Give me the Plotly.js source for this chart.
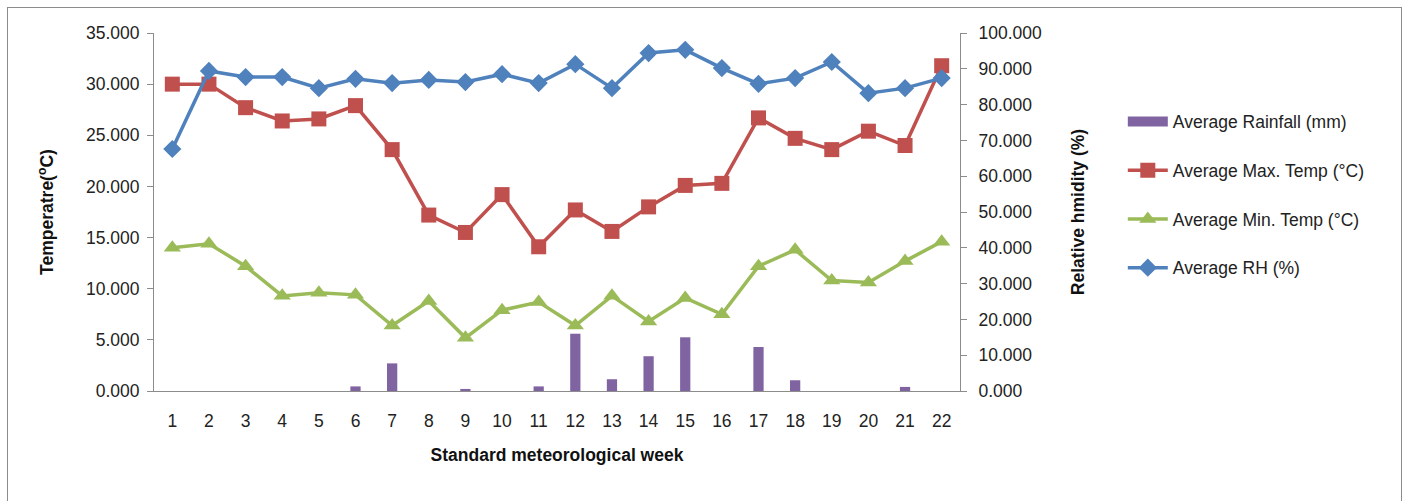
<!DOCTYPE html>
<html>
<head>
<meta charset="utf-8">
<script src="https://cdn.plot.ly/plotly-3.0.1.min.js"></script>
<style>
html,body{margin:0;padding:0;background:#fff;}
#wrap{position:relative;width:1406px;height:501px;overflow:hidden;}
#chart{width:1406px;height:501px;}
#frame{position:absolute;left:7px;top:7px;width:1393px;height:520px;border:1.5px solid #8c8c8c;pointer-events:none;}
</style>
</head>
<body>
<div id="wrap"><div id="chart"></div><div id="frame"></div></div>
<script>
const weeks = [1,2,3,4,5,6,7,8,9,10,11,12,13,14,15,16,17,18,19,20,21,22];
const rainfall = [0,0,0,0,0,0.45,2.7,0,0.2,0,0.45,5.6,1.15,3.4,5.25,0,4.3,1.05,0,0,0.4,0];
const maxTemp = [30.0,30.0,27.7,26.4,26.6,27.9,23.6,17.2,15.5,19.2,14.1,17.7,15.6,18.0,20.1,20.3,26.7,24.7,23.6,25.4,24.0,31.8];
const minTemp = [14.0,14.4,12.2,9.3,9.6,9.4,6.4,8.8,5.2,7.9,8.7,6.4,9.3,6.8,9.1,7.5,12.2,13.8,10.8,10.6,12.7,14.6];
const rh = [67.6,89.4,87.7,87.7,84.6,87.2,86.0,86.9,86.3,88.5,86.0,91.3,84.6,94.4,95.3,90.2,85.8,87.4,91.9,83.2,84.6,87.4];

const FONT = 'Liberation Sans, Arial, sans-serif';
const FS = 17.5;

const traces = [
  {type:'bar', name:'Average Rainfall (mm)', x:weeks, y:rainfall, yaxis:'y',
   marker:{color:'#8064A2'}, showlegend:false, legendgroup:'a'},
  // legend swatch for rainfall (wide bar-like key, no data drawn)
  {type:'scatter', mode:'lines', name:'Average Rainfall (mm)', x:[null], y:[null], yaxis:'y',
   line:{color:'#8064A2', width:10}, legendgroup:'a', hoverinfo:'skip'},
  {type:'scatter', mode:'lines+markers', name:'Average Max. Temp (°C)', x:weeks, y:maxTemp, yaxis:'y',
   line:{color:'#C0504D', width:3.5}, marker:{symbol:'square', size:15, color:'#C0504D'}, legendgroup:'b'},
  {type:'scatter', mode:'lines+markers', name:'Average Min. Temp (°C)', x:weeks, y:minTemp, yaxis:'y',
   line:{color:'#9BBB59', width:3.5}, marker:{symbol:'triangle-up', size:15, color:'#9BBB59'}, legendgroup:'c'},
  {type:'scatter', mode:'lines+markers', name:'Average RH (%)', x:weeks, y:rh, yaxis:'y2',
   line:{color:'#4F81BD', width:3.5}, marker:{symbol:'diamond', size:14, color:'#4F81BD'}, legendgroup:'d'}
];

const layout = {
  width:1406, height:501,
  margin:{l:154, r:446, t:33, b:110},
  paper_bgcolor:'#fff', plot_bgcolor:'#fff',
  font:{family:FONT, size:FS, color:'#222'},
  bargap:0.72,
  showlegend:true,
  legend:{x:1.202, y:0.803, xanchor:'left', yanchor:'top', tracegroupgap:23, itemwidth:40,
          font:{family:FONT, size:FS, color:'#222'}, bgcolor:'rgba(0,0,0,0)'},
  xaxis:{range:[0.5,22.5], tickvals:weeks, ticktext:weeks.map(String), tickmode:'array',
         showgrid:false, zeroline:false, showline:true, linecolor:'#8c8c8c', linewidth:1,
         ticks:'', ticklen:0, ticklabelstandoff:14, tickfont:{size:FS, color:'#222'},
         title:{text:'<b>Standard meteorological week</b>', font:{size:FS, color:'#111'}, standoff:18}},
  yaxis:{range:[0,35], dtick:5, tickformat:'.3f', showgrid:false, zeroline:false,
         showline:true, linecolor:'#8c8c8c', linewidth:1, ticks:'outside', ticklen:6, tickcolor:'#8c8c8c',
         ticklabelstandoff:4, tickfont:{size:FS, color:'#222'},
         title:{text:'<b>Temperatre(<sup>o</sup>C)</b>', font:{size:FS, color:'#111'}, standoff:27}},
  yaxis2:{range:[0,100], dtick:10, tickformat:'.3f', overlaying:'y', side:'right', showgrid:false, zeroline:false,
          showline:true, linecolor:'#8c8c8c', linewidth:1, ticks:'outside', ticklen:6, tickcolor:'#8c8c8c',
          ticklabelstandoff:8, tickfont:{size:FS, color:'#222'},
          title:{text:'<b>Relative hmidity (%)</b>', font:{size:FS, color:'#111'}, standoff:30}}
};

Plotly.newPlot('chart', traces, layout, {displayModeBar:false, staticPlot:true});
</script>
</body>
</html>
